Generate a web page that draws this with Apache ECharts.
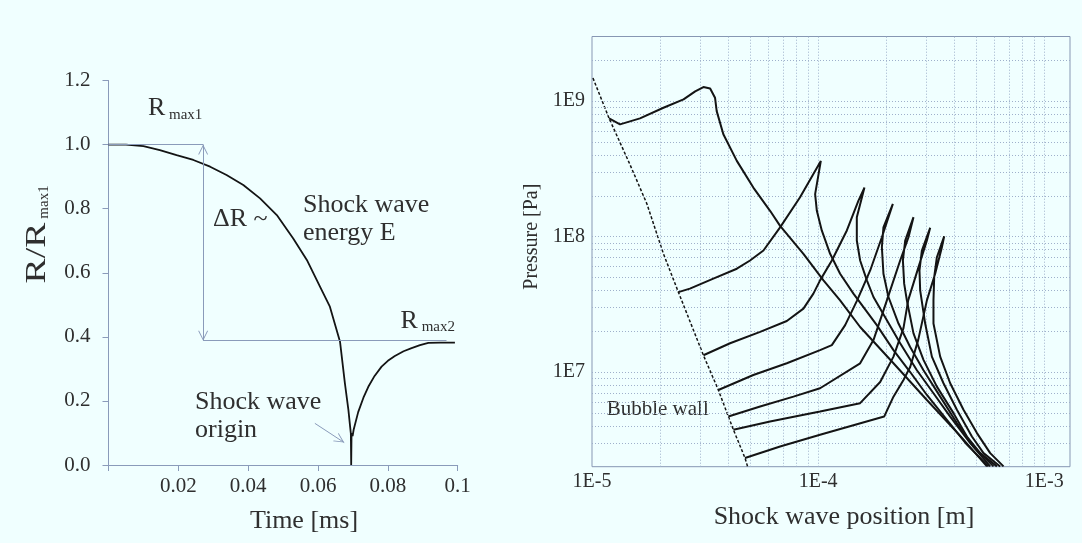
<!DOCTYPE html>
<html>
<head>
<meta charset="utf-8">
<script src="https://cdn.jsdelivr.net/npm/echarts@6/dist/echarts.min.js"></script>
<style>
html,body{margin:0;padding:0;background:#f0ffff;}
#c{width:1082px;height:543px;}
</style>
</head>
<body>
<div id="c"></div>
<script>
// ---------- Left panel: bubble radius vs time ----------
const radiusCurve = [
  [0, 1.0], [0.005, 1.0], [0.010, 0.995], [0.0147, 0.983], [0.0195, 0.967],
  [0.0243, 0.952], [0.0291, 0.931], [0.0338, 0.905], [0.0386, 0.874], [0.0434, 0.832],
  [0.0482, 0.780], [0.0529, 0.707], [0.0568, 0.640], [0.0606, 0.556], [0.0634, 0.494],
  [0.0663, 0.385], [0.0677, 0.255], [0.0687, 0.172], [0.0692, 0.119], [0.0694, 0.099],
  [0.0695, 0.0], [0.0696, 0.10], [0.0699, 0.09], [0.0702, 0.11], [0.0715, 0.165],
  [0.0730, 0.21], [0.0744, 0.244], [0.0762, 0.278], [0.0782, 0.307], [0.0800, 0.325],
  [0.0820, 0.340], [0.0845, 0.355], [0.0868, 0.365], [0.0892, 0.374], [0.0916, 0.381],
  [0.0950, 0.382], [0.0992, 0.382]
];
const rmax1Level = 1.0;
const rmax2Level = 0.388;
const deltaArrowTime = 0.0271;
const rmax2LineEnd = 0.0968;
const originArrow = [[0.0591, 0.130], [0.0675, 0.070]];
const leftXTicks = [0.02, 0.04, 0.06, 0.08, 0.1];
const leftYTicks = ['0.0', '0.2', '0.4', '0.6', '0.8', '1.0', '1.2'];

// ---------- Right panel: shock wave pressure vs position ----------
const bubbleWall = [
  [1.01e-5, 1.48e9], [1.19e-5, 7.46e8], [1.47e-5, 3.42e8], [1.75e-5, 1.74e8],
  [2.07e-5, 7.46e7], [2.41e-5, 3.89e7], [3.11e-5, 1.33e7], [3.62e-5, 7.37e6],
  [4.01e-5, 4.69e6], [4.22e-5, 3.75e6], [4.75e-5, 2.32e6], [4.88e-5, 2.0e6]
];
const curve1 = [
  [1.19e-5, 7.46e8], [1.33e-5, 6.74e8], [1.63e-5, 7.46e8], [2.07e-5, 8.93e8], [2.54e-5, 1.03e9],
  [2.86e-5, 1.18e9], [3.11e-5, 1.27e9], [3.33e-5, 1.24e9], [3.50e-5, 1.06e9], [3.56e-5, 8.44e8],
  [3.81e-5, 5.69e8], [4.37e-5, 3.62e8], [5.17e-5, 2.30e8], [6.13e-5, 1.55e8], [6.79e-5, 1.20e8],
  [8.61e-5, 7.46e7], [1.056e-4, 4.75e7], [1.251e-4, 3.38e7], [1.534e-4, 2.15e7], [2.154e-4, 1.16e7],
  [3.027e-4, 6.22e6], [4.249e-4, 3.38e6], [5.58e-4, 2.01e6]
];
const curve2 = [
  [2.41e-5, 3.89e7], [2.71e-5, 4.13e7], [3.44e-5, 4.89e7], [4.37e-5, 5.79e7], [5.00e-5, 6.66e7],
  [5.73e-5, 7.89e7], [6.79e-5, 1.17e8], [8.32e-5, 1.95e8], [1.028e-4, 3.62e8], [9.70e-5, 2.06e8],
  [9.87e-5, 1.55e8], [1.038e-4, 1.11e8], [1.130e-4, 7.46e7], [1.251e-4, 5.32e7], [1.433e-4, 3.79e7],
  [1.818e-4, 2.22e7], [2.154e-4, 1.45e7], [2.553e-4, 1.0e7], [3.027e-4, 6.77e6], [3.711e-4, 4.44e6],
  [4.550e-4, 2.91e6], [5.67e-4, 2.01e6]
];
const curve3 = [
  [3.11e-5, 1.33e7], [4.08e-5, 1.63e7], [5.54e-5, 1.98e7], [7.27e-5, 2.38e7], [8.61e-5, 2.94e7],
  [9.53e-5, 3.79e7], [1.020e-4, 4.75e7], [1.150e-4, 6.66e7], [1.340e-4, 1.11e8], [1.508e-4, 1.84e8],
  [1.603e-4, 2.30e8], [1.483e-4, 1.39e8], [1.483e-4, 9.35e7], [1.534e-4, 6.66e7], [1.643e-4, 4.75e7],
  [1.757e-4, 3.58e7], [2.014e-4, 2.41e7], [2.306e-4, 1.63e7], [2.734e-4, 1.03e7], [3.237e-4, 6.97e6],
  [3.838e-4, 4.69e6], [4.706e-4, 2.99e6], [5.768e-4, 2.01e6]
];
const curve4 = [
  [3.62e-5, 7.37e6], [5.17e-5, 9.50e6], [7.27e-5, 1.16e7], [1.020e-4, 1.45e7], [1.150e-4, 1.58e7],
  [1.317e-4, 2.22e7], [1.488e-4, 3.38e7], [1.699e-4, 5.62e7], [1.914e-4, 9.88e7], [2.141e-4, 1.74e8],
  [1.945e-4, 1.17e8], [1.914e-4, 8.34e7], [1.945e-4, 5.32e7], [2.047e-4, 3.58e7], [2.267e-4, 2.28e7],
  [2.553e-4, 1.53e7], [2.924e-4, 1.03e7], [3.466e-4, 6.58e6], [4.109e-4, 4.20e6], [4.867e-4, 2.82e6],
  [5.966e-4, 2.01e6]
];
const curve5 = [
  [4.01e-5, 4.69e6], [5.54e-5, 5.56e6], [7.78e-5, 6.58e6], [1.020e-4, 7.59e6], [1.534e-4, 1.16e7],
  [1.757e-4, 1.72e7], [2.014e-4, 3.38e7], [2.306e-4, 6.66e7], [2.510e-4, 9.88e7], [2.641e-4, 1.39e8],
  [2.427e-4, 9.35e7], [2.371e-4, 6.66e7], [2.402e-4, 4.49e7], [2.469e-4, 3.38e7], [2.641e-4, 1.93e7],
  [2.924e-4, 1.23e7], [3.351e-4, 7.80e6], [3.970e-4, 4.97e6], [4.550e-4, 3.34e6], [5.21e-4, 2.52e6],
  [6.176e-4, 2.01e6]
];
const curve6 = [
  [4.22e-5, 3.75e6], [6.13e-5, 4.31e6], [1.020e-4, 5.11e6], [1.534e-4, 5.89e6], [1.881e-4, 8.44e6],
  [2.154e-4, 1.30e7], [2.385e-4, 2.11e7], [2.502e-4, 3.38e7], [2.779e-4, 5.95e7], [3.027e-4, 9.35e7],
  [3.130e-4, 1.16e8], [2.876e-4, 7.89e7], [2.807e-4, 5.62e7], [2.827e-4, 4.01e7], [2.975e-4, 2.28e7],
  [3.185e-4, 1.30e7], [3.585e-4, 8.26e6], [4.109e-4, 5.26e6], [4.787e-4, 3.34e6], [5.39e-4, 2.52e6],
  [6.387e-4, 2.01e6]
];
const curve7 = [
  [4.75e-5, 2.32e6], [6.79e-5, 2.82e6], [1.020e-4, 3.44e6], [1.959e-4, 4.69e6], [2.154e-4, 6.58e6],
  [2.385e-4, 8.73e6], [2.553e-4, 1.09e7], [2.770e-4, 1.72e7], [3.027e-4, 3.38e7], [3.293e-4, 5.32e7],
  [3.527e-4, 8.34e7], [3.610e-4, 1.005e8], [3.351e-4, 7.04e7], [3.261e-4, 5.02e7], [3.237e-4, 3.38e7],
  [3.237e-4, 2.28e7], [3.466e-4, 1.30e7], [3.838e-4, 8.26e6], [4.395e-4, 5.26e6], [5.04e-4, 3.54e6],
  [5.768e-4, 2.52e6], [6.606e-4, 2.01e6]
];
const rightXTicks = ['1E-5', '1E-4', '1E-3'];
const rightYTicks = ['1E7', '1E8', '1E9'];
const gridMantissas = [1, 2, 3, 4, 5, 6, 7, 8, 9];

// ---------- styling ----------
const FONT = '"Liberation Serif","Times New Roman",serif';
const AXIS = '#8a9bba';
const GRIDC = '#9fb0cb';
const INK = '#141414';
const TXT = '#2f2f2f';
const VHEAD = 'path://M5,10 L10,20 L9,20 L5,12 L1,20 L0,20 Z M5,0 L5.01,0 L5,0.01 Z';

const xMin = 1e-5, xMax = 1.3e-3, yMin = 2e6, yMax = 3e9;
const xGrid = [], yGrid = [];
[-5, -4, -3].forEach(k => gridMantissas.forEach(m => {
  const v = m * Math.pow(10, k);
  if (v > xMin * 1.001 && v < xMax * 0.999) xGrid.push(v);
}));
[6, 7, 8, 9].forEach(k => gridMantissas.forEach(m => {
  const v = m * Math.pow(10, k);
  if (v > yMin * 1.001 && v < yMax * 0.999) yGrid.push(v);
}));

function logLabel(v) {
  const e = Math.log10(v), r = Math.round(e);
  if (Math.abs(e - r) > 1e-6) return '';
  const s = '1E' + r;
  return (rightXTicks.indexOf(s) >= 0 || rightYTicks.indexOf(s) >= 0) ? s : '';
}

function txt(text, x, y, size, opts) {
  opts = opts || {};
  return {
    type: 'text', x: x, y: y, rotation: opts.rotation || 0,
    scaleX: opts.scaleX || 1, scaleY: 1, silent: true,
    style: {
      text: text, font: size + 'px ' + FONT, fill: opts.fill || TXT,
      textAlign: opts.align || 'left', align: opts.align || 'left',
      textVerticalAlign: 'middle', verticalAlign: 'middle'
    }
  };
}

const curveLine = { color: INK, width: 2 };
function curveSeries(name, data) {
  return {
    name: name, type: 'line', xAxisIndex: 1, yAxisIndex: 1, data: data,
    showSymbol: false, symbol: 'none', lineStyle: curveLine, z: 5, silent: true
  };
}

const gridLines = xGrid.map(v => [{ coord: [v, yMin] }, { coord: [v, yMax] }])
  .concat(yGrid.map(v => [{ coord: [xMin, v] }, { coord: [xMax, v] }]));

const option = {
  backgroundColor: '#f0ffff',
  animation: false,
  grid: [
    { left: 108.5, top: 80.5, width: 349.2, height: 384.5 },
    { left: 592, top: 36.5, width: 478, height: 430.2, show: true, borderColor: '#8797b3', borderWidth: 1, backgroundColor: 'transparent' }
  ],
  xAxis: [
    {
      type: 'value', gridIndex: 0, min: 0, max: 0.1, interval: 0.02,
      axisLine: { lineStyle: { color: AXIS, width: 1 } },
      axisTick: { show: true, length: 6, lineStyle: { color: AXIS } },
      splitLine: { show: false },
      axisLabel: {
        margin: 11, color: TXT, fontSize: 21, fontFamily: FONT,
        formatter: v => (leftXTicks.some(t => Math.abs(t - v) < 1e-9) ? String(+v.toFixed(2)) : '')
      }
    },
    {
      type: 'log', logBase: 10, gridIndex: 1, min: xMin, max: xMax,
      axisLine: { show: false }, axisTick: { show: false }, splitLine: { show: false },
      axisLabel: { margin: 5, color: TXT, fontSize: 20, fontFamily: FONT, formatter: logLabel, showMaxLabel: false }
    }
  ],
  yAxis: [
    {
      type: 'value', gridIndex: 0, min: 0, max: 1.2, interval: 0.2,
      axisLine: { show: true, lineStyle: { color: AXIS, width: 1 } },
      axisTick: { show: true, length: 6, lineStyle: { color: AXIS } },
      splitLine: { show: false },
      axisLabel: {
        margin: 18, color: TXT, fontSize: 21, fontFamily: FONT,
        formatter: v => { const s = v.toFixed(1); return leftYTicks.indexOf(s) >= 0 ? s : ''; }
      }
    },
    {
      type: 'log', logBase: 10, gridIndex: 1, min: yMin, max: yMax,
      axisLine: { show: false }, axisTick: { show: false }, splitLine: { show: false },
      axisLabel: { margin: 7, color: TXT, fontSize: 20, fontFamily: FONT, formatter: logLabel, showMinLabel: false, showMaxLabel: false }
    }
  ],
  series: [
    {
      name: 'R/Rmax1', type: 'line', xAxisIndex: 0, yAxisIndex: 0, data: radiusCurve,
      showSymbol: false, symbol: 'none', lineStyle: { color: INK, width: 1.8 }, silent: true,
      markLine: {
        silent: true, symbol: ['none', 'none'], label: { show: false },
        lineStyle: { color: AXIS, width: 1, type: 'solid' },
        emphasis: { disabled: true },
        data: [
          [{ coord: [0, rmax1Level] }, { coord: [deltaArrowTime, rmax1Level] }],
          [{ coord: [deltaArrowTime, rmax2Level] }, { coord: [rmax2LineEnd, rmax2Level] }],
          [{ coord: [deltaArrowTime, rmax1Level], symbol: VHEAD, symbolSize: [10, 20] },
           { coord: [deltaArrowTime, rmax2Level], symbol: VHEAD, symbolSize: [10, 20] }],
          [{ coord: originArrow[0], symbol: 'none' },
           { coord: originArrow[1], symbol: VHEAD, symbolSize: [10, 20] }]
        ]
      }
    },
    {
      name: 'grid', type: 'line', xAxisIndex: 1, yAxisIndex: 1, data: [[xMin, yMin]],
      showSymbol: false, symbol: 'none', lineStyle: { width: 0 }, z: 1, silent: true,
      markLine: {
        silent: true, symbol: ['none', 'none'], label: { show: false },
        lineStyle: { color: GRIDC, width: 1, type: [1, 2] },
        emphasis: { disabled: true },
        data: gridLines
      }
    },
    {
      name: 'Bubble wall', type: 'line', xAxisIndex: 1, yAxisIndex: 1, data: bubbleWall,
      showSymbol: false, symbol: 'none', lineStyle: { color: INK, width: 1.5, type: [3, 2] }, z: 4, silent: true
    },
    curveSeries('t1', curve1), curveSeries('t2', curve2), curveSeries('t3', curve3),
    curveSeries('t4', curve4), curveSeries('t5', curve5), curveSeries('t6', curve6),
    curveSeries('t7', curve7)
  ],
  graphic: [
    txt('R', 148, 108.5, 26),
    txt('max1', 169, 115, 15),
    txt('\u0394R ~', 213, 219, 26),
    txt('Shock wave', 303, 205, 26),
    txt('energy E', 303, 233.5, 26),
    txt('R', 400.5, 321, 26),
    txt('max2', 421.7, 327, 15),
    txt('Shock wave', 195, 401.7, 26),
    txt('origin', 195, 430, 26),
    txt('Time [ms]', 304, 521, 26, { align: 'center' }),
    txt('R/R', 37, 253, 29, { align: 'center', rotation: Math.PI / 2, scaleX: 1.3 }),
    txt('max1', 44, 202, 15, { align: 'center', rotation: Math.PI / 2 }),
    txt('Bubble wall', 606.7, 409.7, 21),
    txt('Pressure [Pa]', 532, 236.7, 20, { align: 'center', rotation: Math.PI / 2 }),
    txt('Shock wave position [m]', 844, 517, 26, { align: 'center' })
  ]
};

const chart = echarts.init(document.getElementById('c'), null, { renderer: 'canvas' });
chart.setOption(option);
</script>
</body>
</html>
